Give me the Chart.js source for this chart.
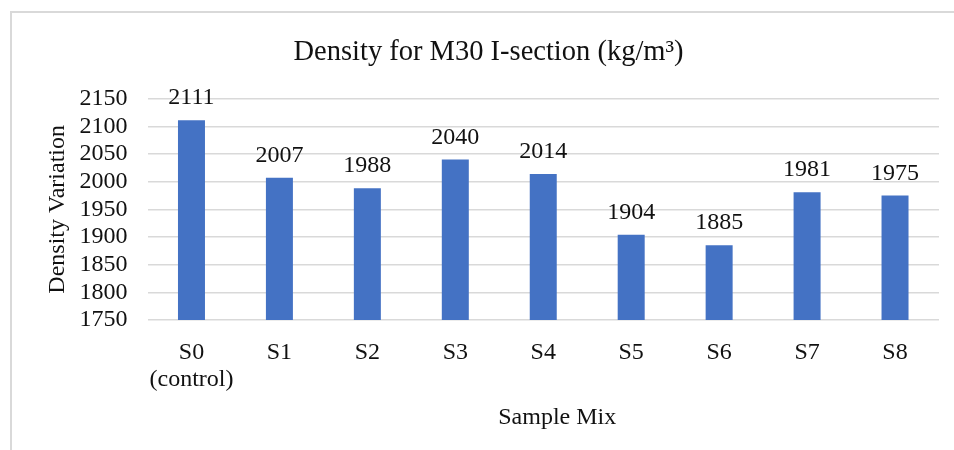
<!DOCTYPE html>
<html>
<head>
<meta charset="utf-8">
<script src="https://cdn.jsdelivr.net/npm/chart.js@4"></script>
<style>
  html, body { margin: 0; padding: 0; background: #fff; }
  #wrap { position: relative; width: 954px; height: 450px; overflow: hidden; }
  #frame { position: absolute; left: 10px; top: 11px; width: 1000px; height: 500px;
           border-top: 2px solid #d9d9d9; border-left: 2px solid #d9d9d9; }
  canvas { position: absolute; left: 0; top: 0; }
</style>
</head>
<body>
<div id="wrap">
  <div id="frame"></div>
  <canvas id="densityChart" width="954" height="450"></canvas>
</div>
<script>
const categories = [['S0', '(control)'], 'S1', 'S2', 'S3', 'S4', 'S5', 'S6', 'S7', 'S8'];
const densityValues = [2111, 2007, 1988, 2040, 2014, 1904, 1885, 1981, 1975];
const yTicks = { min: 1750, max: 2150, step: 50 };

const serif = "'Liberation Serif', 'Times New Roman', serif";
const textColor = '#111111';
const gridColor = '#d9d9d9';

// value labels drawn above each bar
const valueLabels = {
  id: 'valueLabels',
  afterDatasetsDraw(chart) {
    const ctx = chart.ctx;
    const meta = chart.getDatasetMeta(0);
    ctx.save();
    ctx.font = '24px ' + serif;
    ctx.fillStyle = textColor;
    ctx.textAlign = 'center';
    ctx.textBaseline = 'alphabetic';
    meta.data.forEach((bar, i) => {
      ctx.fillText(String(densityValues[i]), bar.x, bar.y - 16);
    });
    ctx.restore();
  },
};

// x axis title sits a little right of the plot centre in the original
const xAxisTitle = {
  id: 'xAxisTitle',
  afterDraw(chart) {
    const ctx = chart.ctx;
    const area = chart.chartArea;
    ctx.save();
    ctx.font = '24px ' + serif;
    ctx.fillStyle = textColor;
    ctx.textAlign = 'center';
    ctx.textBaseline = 'middle';
    ctx.fillText('Sample Mix', (area.left + area.right) / 2 + 14, 418);
    ctx.restore();
  },
};

new Chart(document.getElementById('densityChart'), {
  type: 'bar',
  data: {
    labels: categories,
    datasets: [
      {
        label: 'Density',
        data: densityValues,
        backgroundColor: '#4472c4',
        borderWidth: 0,
        barPercentage: 0.307,
        categoryPercentage: 1,
      },
    ],
  },
  options: {
    responsive: false,
    animation: false,
    layout: { padding: { top: 35, left: 38, right: 15, bottom: 0 } },
    plugins: {
      legend: { display: false },
      tooltip: { enabled: false },
      title: {
        display: true,
        text: 'Density for M30 I-section (kg/m³)',
        color: textColor,
        font: { family: serif, size: 28.5, weight: 'normal', lineHeight: 1.2 },
        padding: { top: 0, bottom: 29.5 },
      },
    },
    scales: {
      x: {
        grid: { display: false },
        border: { display: false },
        ticks: {
          color: textColor,
          padding: 11.5,
          maxRotation: 0,
          autoSkip: false,
          font: { family: serif, size: 24, lineHeight: 1.125 },
        },
        afterFit(scale) { scale.height = 130; },
      },
      y: {
        min: yTicks.min,
        max: yTicks.max,
        grid: { color: gridColor, lineWidth: 1.6, drawTicks: false },
        border: { display: false },
        ticks: {
          stepSize: yTicks.step,
          autoSkip: false,
          color: textColor,
          padding: 20,
          font: { family: serif, size: 24 },
          callback: (value) => String(value),
        },
        title: {
          display: true,
          text: 'Density Variation',
          color: textColor,
          font: { family: serif, size: 24, lineHeight: 1.2 },
          padding: { top: 5.5, bottom: 0 },
        },
        afterFit(scale) { scale.width = 109.5; },
      },
    },
  },
  plugins: [valueLabels, xAxisTitle],
});
</script>
</body>
</html>
